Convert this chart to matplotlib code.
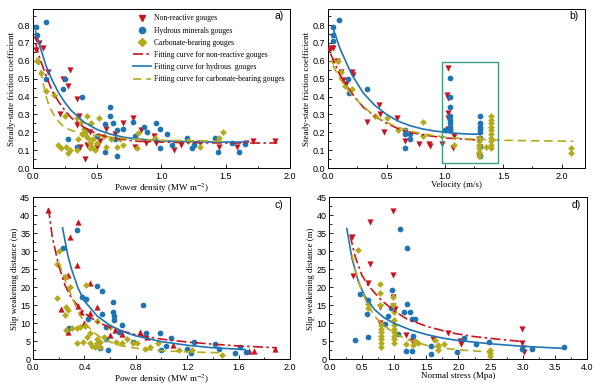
import matplotlib
matplotlib.use("Agg")
import matplotlib.pyplot as plt
from matplotlib.ticker import MultipleLocator

# ---- colours / styles
RED = '#c8141e'
BLUE = '#1f74b4'
OLIVE = '#b3ab1c'
BOX = '#3c9c80'

# ---- panel a) friction vs power density
a_red_x = [0.02, 0.02, 0.05, 0.08, 0.12, 0.21, 0.236, 0.275, 0.29, 0.345, 0.34, 0.355, 0.366,
           0.405, 0.42, 0.44, 0.50, 0.52, 0.57, 0.64, 0.70, 0.78, 0.79, 0.84, 0.88, 0.94, 0.96,
           1.10, 1.15, 1.30, 1.45, 1.59, 1.66, 1.71, 1.88]
a_red_y = [0.66, 0.72, 0.70, 0.67, 0.54, 0.30, 0.50, 0.46, 0.55, 0.385, 0.24, 0.29, 0.12,
           0.05, 0.13, 0.20, 0.12, 0.15, 0.22, 0.19, 0.25, 0.28, 0.12, 0.21, 0.14, 0.18, 0.14,
           0.10, 0.13, 0.14, 0.12, 0.12, 0.14, 0.15, 0.15]
a_blue_x = [0.023, 0.03, 0.10, 0.10, 0.23, 0.25, 0.275, 0.34, 0.38, 0.41, 0.50, 0.56, 0.56,
            0.60, 0.60, 0.625, 0.64, 0.65, 0.65, 0.70, 0.78, 0.79, 0.86, 0.885, 0.96, 0.99,
            0.99, 1.04, 1.08, 1.20, 1.235, 1.25, 1.42, 1.44, 1.55, 1.60, 1.65]
a_blue_y = [0.79, 0.745, 0.82, 0.50, 0.44, 0.50, 0.16, 0.115, 0.40, 0.21, 0.18, 0.245, 0.09,
            0.34, 0.29, 0.25, 0.16, 0.21, 0.07, 0.22, 0.26, 0.18, 0.23, 0.20, 0.25, 0.22,
            0.11, 0.19, 0.13, 0.17, 0.11, 0.13, 0.17, 0.09, 0.14, 0.09, 0.135]
a_olive_x = [0.03, 0.04, 0.065, 0.105, 0.16, 0.195, 0.22, 0.25, 0.26, 0.275, 0.29, 0.34, 0.34,
             0.35, 0.37, 0.38, 0.40, 0.405, 0.41, 0.42, 0.43, 0.44, 0.44, 0.45, 0.46, 0.47,
             0.48, 0.50, 0.51, 0.55, 0.57, 0.61, 0.65, 0.68, 0.70, 0.81, 0.82, 0.95, 1.21,
             1.30, 1.45, 1.48]
a_olive_y = [0.60, 0.60, 0.53, 0.43, 0.41, 0.13, 0.11, 0.29, 0.12, 0.085, 0.10, 0.10, 0.28,
             0.16, 0.26, 0.19, 0.22, 0.20, 0.18, 0.29, 0.17, 0.14, 0.11, 0.25, 0.12, 0.16,
             0.10, 0.14, 0.28, 0.18, 0.12, 0.16, 0.12, 0.16, 0.13, 0.11, 0.195, 0.17, 0.15,
             0.12, 0.17, 0.20]
a_fit_red_x = [0.02, 0.05, 0.10, 0.15, 0.20, 0.25, 0.30, 0.40, 0.50, 0.60, 0.70, 0.80, 1.0, 1.2, 1.5, 1.9]
a_fit_red_y = [0.70, 0.62, 0.52, 0.43, 0.37, 0.32, 0.28, 0.225, 0.19, 0.17, 0.16, 0.15, 0.145, 0.142, 0.14, 0.14]
a_fit_blue_x = [0.02, 0.05, 0.10, 0.15, 0.20, 0.25, 0.30, 0.40, 0.50, 0.60, 0.70, 0.80, 1.0, 1.2, 1.4, 1.67]
a_fit_blue_y = [0.765, 0.69, 0.575, 0.49, 0.42, 0.365, 0.32, 0.255, 0.215, 0.19, 0.173, 0.163, 0.152, 0.148, 0.146, 0.145]
a_fit_olive_x = [0.03, 0.06, 0.08, 0.106, 0.13, 0.16, 0.20, 0.24, 0.30, 0.38, 0.50, 0.70, 1.0, 1.48]
a_fit_olive_y = [0.62, 0.54, 0.47, 0.39, 0.34, 0.30, 0.26, 0.23, 0.21, 0.195, 0.18, 0.165, 0.155, 0.15]

# ---- panel b) friction vs velocity
b_red_x = [0.01, 0.023, 0.04, 0.077, 0.11, 0.13, 0.155, 0.20, 0.21, 0.33, 0.435, 0.44, 0.48,
           0.59, 0.655, 0.78, 0.86, 0.87, 0.976, 1.025, 1.02, 1.025, 1.025, 1.025, 1.025,
           1.08, 1.07, 1.295, 1.295, 1.30]
b_red_y = [0.66, 0.67, 0.67, 0.60, 0.535, 0.495, 0.47, 0.54, 0.52, 0.26, 0.355, 0.30, 0.20,
           0.28, 0.15, 0.135, 0.135, 0.125, 0.135, 0.56, 0.41, 0.39, 0.31, 0.28, 0.22,
           0.18, 0.11, 0.065, 0.16, 0.12]
b_blue_x = [0.043, 0.043, 0.043, 0.09, 0.17, 0.175, 0.335, 0.655, 0.655, 0.655, 0.705, 0.705,
            1.0, 1.04, 1.04, 1.04, 1.04, 1.04, 1.04, 1.04, 1.04, 1.04,
            1.30, 1.30, 1.30, 1.30, 1.30, 1.30, 1.30, 1.30]
b_blue_y = [0.79, 0.745, 0.71, 0.83, 0.50, 0.42, 0.44, 0.21, 0.19, 0.11, 0.19, 0.16,
            0.21, 0.505, 0.40, 0.34, 0.29, 0.27, 0.25, 0.23, 0.22, 0.21,
            0.29, 0.25, 0.23, 0.22, 0.20, 0.17, 0.12, 0.07]
b_olive_x = [0.043, 0.08, 0.11, 0.14, 0.20, 0.40, 0.50, 0.60, 0.81, 0.81, 1.075,
             1.295, 1.295, 1.295, 1.295, 1.295, 1.295, 1.35,
             1.395, 1.395, 1.395, 1.395, 1.395, 1.395, 1.395, 1.395, 1.395, 1.395,
             2.08, 2.08]
b_olive_y = [0.60, 0.60, 0.535, 0.46, 0.44, 0.29, 0.28, 0.21, 0.26, 0.18, 0.13,
             0.07, 0.09, 0.11, 0.13, 0.15, 0.17, 0.12,
             0.11, 0.13, 0.15, 0.17, 0.19, 0.21, 0.23, 0.25, 0.27, 0.29,
             0.11, 0.085]
b_fit_red_x = [0.02, 0.10, 0.20, 0.30, 0.40, 0.50, 0.60, 0.70, 0.80, 1.0, 1.2, 1.3]
b_fit_red_y = [0.64, 0.52, 0.42, 0.34, 0.29, 0.25, 0.22, 0.20, 0.187, 0.168, 0.16, 0.157]
b_fit_blue_x = [0.04, 0.10, 0.20, 0.30, 0.40, 0.50, 0.60, 0.70, 0.80, 0.90, 1.0, 1.1, 1.2, 1.3]
b_fit_blue_y = [0.785, 0.67, 0.525, 0.42, 0.35, 0.30, 0.262, 0.237, 0.22, 0.208, 0.20, 0.194, 0.19, 0.189]
b_fit_olive_x = [0.04, 0.10, 0.20, 0.30, 0.40, 0.50, 0.60, 0.70, 0.80, 1.0, 1.2, 1.5, 1.8, 2.1]
b_fit_olive_y = [0.575, 0.50, 0.41, 0.345, 0.29, 0.255, 0.228, 0.207, 0.192, 0.173, 0.163, 0.155, 0.152, 0.15]
b_box = [0.976, 1.457, 0.028, 0.594]  # velocity / friction extent of the highlighted group

# ---- panel c) slip weakening distance vs power density
c_red_x = [0.12, 0.35, 0.29, 0.345, 0.25, 0.27, 0.22, 0.44, 0.35, 0.37, 0.495, 0.44, 0.40,
           0.275, 0.60, 0.64, 0.69, 0.83, 0.885, 1.09, 1.68, 1.72, 1.88]
c_red_y = [41.5, 38, 34, 26.2, 23, 23.5, 13.9, 21.1, 14.8, 13.2, 14.4, 12.8, 10.2,
           7.7, 6.8, 8.1, 7.0, 7.7, 6.3, 3.9, 2.3, 2.3, 2.8]
c_blue_x = [0.235, 0.34, 0.28, 0.38, 0.41, 0.43, 0.50, 0.535, 0.535, 0.57, 0.585, 0.62, 0.62,
            0.63, 0.63, 0.67, 0.69, 0.775, 0.855, 0.88, 0.99, 1.0, 1.035, 1.075, 1.20, 1.23,
            1.255, 1.42, 1.445, 1.57, 1.61, 1.66, 0.52, 0.57]
c_blue_y = [30.8, 36, 8.6, 17.4, 16.7, 11.2, 20.4, 19.1, 12.5, 8.9, 2.6, 16, 13.2,
            11.9, 10.9, 7.7, 9.5, 4.9, 15.1, 7.2, 7.4, 2.6, 3.7, 6.0, 2.8, 1.7,
            4.8, 4.3, 2.8, 1.7, 3.3, 2.0, 3.2, 5.6]
c_olive_x = [0.205, 0.185, 0.185, 0.25, 0.29, 0.26, 0.275, 0.25, 0.30, 0.255, 0.34, 0.365,
             0.405, 0.34, 0.39, 0.42, 0.44, 0.44, 0.48, 0.50, 0.52, 0.52, 0.55, 0.60, 0.645,
             0.69, 0.73, 0.78, 0.81, 0.87, 0.91, 0.97, 1.14, 1.235, 1.47, 0.495, 0.41, 0.46, 0.50]
c_olive_y = [30.2, 26.5, 17.1, 22.8, 20.2, 14.6, 13.7, 12.3, 8.6, 8.1, 8.6, 8.9,
             9.3, 4.4, 4.9, 6.3, 7.2, 4.4, 3.5, 4.4, 3.5, 4.9, 6.3, 9.1, 4.9,
             4.4, 5.6, 4.4, 4.6, 2.8, 3.3, 4.4, 2.6, 2.6, 1.2, 10.5, 20.6, 3.8, 5.6]
c_fit_red_x = [0.12, 0.15, 0.20, 0.25, 0.30, 0.40, 0.50, 0.60, 0.80, 1.0, 1.2, 1.4, 1.6, 1.9]
c_fit_red_y = [42, 34, 26, 20.5, 17, 12.8, 10.4, 8.8, 6.8, 5.6, 4.8, 4.2, 3.7, 3.2]
c_fit_blue_x = [0.23, 0.27, 0.30, 0.35, 0.40, 0.50, 0.60, 0.70, 0.80, 1.0, 1.2, 1.4, 1.65]
c_fit_blue_y = [36.5, 29, 25, 19.8, 16.2, 12, 9.4, 7.7, 6.5, 4.9, 3.9, 3.2, 2.7]
c_fit_olive_x = [0.20, 0.25, 0.29, 0.33, 0.37, 0.42, 0.47, 0.55, 0.68, 0.85, 1.04, 1.25, 1.47]
c_fit_olive_y = [27, 22, 18.5, 15, 12, 9.5, 7.5, 5.5, 3.8, 2.8, 2.3, 2.0, 1.8]

# ---- panel d) slip weakening distance vs normal stress
d_red_x = [0.35, 0.37, 0.63, 0.63, 0.605, 0.785, 0.785, 0.98, 0.98, 0.99, 0.99, 1.02, 1.19,
           1.28, 1.61, 1.84, 2.03, 2.04, 2.98, 2.98, 3.02, 3.0]
d_red_y = [34, 23.2, 38.2, 26.5, 21.1, 14.5, 10.1, 41.2, 23.5, 17.4, 14.8, 14, 6.8,
           5, 5.6, 7.3, 5, 4.3, 8.5, 4.4, 2, 3]
d_blue_x = [0.40, 0.476, 0.595, 0.58, 0.605, 0.86, 0.915, 0.97, 0.95, 1.10, 1.07, 1.15, 1.20,
            1.21, 1.25, 1.28, 1.30, 1.33, 1.19, 1.28, 1.57, 1.57, 1.98, 2.08, 2.27, 2.48,
            2.98, 3.14, 3.63]
d_blue_y = [5.3, 18, 16.5, 12.6, 6.3, 9.8, 11.9, 19.2, 14.3, 36.2, 7.1, 13.2, 30.8,
            15.4, 13.2, 11.3, 6.6, 11.3, 2.4, 2.2, 3.6, 1.5, 1.9, 6.0, 4.3, 4.8,
            2.9, 2.9, 3.3]
d_olive_x = [0.445, 0.60, 0.60, 0.785, 0.785, 0.785,
             0.80, 0.80, 0.80, 0.80, 0.80, 0.80, 0.80,
             0.98, 0.98, 1.0, 1.0, 1.0, 1.0, 1.0, 1.0, 1.0, 1.0,
             1.19, 1.30, 1.33, 1.38, 1.64, 1.69, 1.69, 1.77, 2.49, 2.49, 2.49]
d_olive_y = [30.4, 15.3, 14.3, 20.9, 18.4, 15.2,
             3.5, 4.5, 5.5, 6.5, 7.5, 8.5, 9.5,
             17.4, 15.2, 4.5, 5.5, 6.5, 7.5, 8.5, 9.5, 11, 13,
             4.3, 4.0, 5.0, 4.5, 5.4, 4.0, 2.6, 4.3, 2.6, 1.7, 0.8]
d_fit_red_x = [0.32, 0.40, 0.50, 0.60, 0.80, 1.0, 1.2, 1.5, 1.87, 2.2, 2.6, 3.0]
d_fit_red_y = [34.5, 28.5, 23.5, 20.5, 16.5, 13.5, 11.2, 9.2, 7.4, 6.4, 5.6, 4.9]
d_fit_blue_x = [0.27, 0.35, 0.45, 0.55, 0.70, 0.85, 1.0, 1.25, 1.5, 1.75, 2.0, 2.5, 3.0, 3.65]
d_fit_blue_y = [36.3, 28, 21.5, 17.5, 13.8, 11.5, 10, 8.2, 6.9, 5.9, 5.2, 4.3, 3.6, 3.0]
d_fit_olive_x = [0.35, 0.40, 0.50, 0.60, 0.70, 0.80, 1.0, 1.2, 1.5, 1.8, 2.1, 2.5]
d_fit_olive_y = [29, 25, 19, 15, 12, 10, 7.3, 5.5, 3.9, 3.0, 2.5, 2.0]

labels = ['Non-reactive gouges', 'Hydrous minerals gouges', 'Carbonate-bearing gouges',
          'Fitting curve for non-reactive gouges', 'Fitting curve for hydrous  gouges',
          'Fitting curve for carbonate-bearing gouges']

SERIF = 'Liberation Serif'
SANS = 'Liberation Sans'
plt.rcParams['font.family'] = SANS
plt.rcParams['mathtext.fontset'] = 'stix'

RED_LS = (0, (6, 2, 1.5, 2))
OLIVE_LS = (0, (5, 3))


def style_axis(ax, xlim, ylim, xmaj, xmin, ymaj, ymin, xfmt, yfmt, xlabel, ylabel, tag):
    ax.set_xlim(*xlim)
    ax.set_ylim(*ylim)
    ax.xaxis.set_major_locator(MultipleLocator(xmaj))
    ax.xaxis.set_minor_locator(MultipleLocator(xmin))
    ax.yaxis.set_major_locator(MultipleLocator(ymaj))
    ax.yaxis.set_minor_locator(MultipleLocator(ymin))
    ax.xaxis.set_major_formatter(xfmt)
    ax.yaxis.set_major_formatter(yfmt)
    ax.tick_params(which='both', direction='in', labelsize=6.5, width=0.6)
    ax.tick_params(which='major', length=3)
    ax.tick_params(which='minor', length=1.8)
    ax.tick_params(axis='x', pad=3)
    ax.tick_params(axis='y', pad=2)
    for sp in ax.spines.values():
        sp.set_linewidth(0.7)
    ax.set_xlabel(xlabel, fontfamily=SERIF, fontsize=6.5, labelpad=0)
    ax.set_ylabel(ylabel, fontfamily=SERIF, fontsize=6.5, labelpad=1)
    ax.text(0.975, 0.955, tag, transform=ax.transAxes, ha='right', va='center', fontsize=7.5)


def draw(ax, rx, ry, bx, by, ox, oy, red_marker, fits):
    ax.scatter(rx, ry, marker=red_marker, s=20, color=RED, linewidths=0, zorder=3)
    ax.scatter(bx, by, marker='o', s=17, color=BLUE, linewidths=0, zorder=3)
    ax.scatter(ox, oy, marker='D', s=12, color=OLIVE, linewidths=0, zorder=3)
    (frx, fry), (fbx, fby), (fox, foy) = fits
    ax.plot(frx, fry, color=RED, ls=RED_LS, lw=1.2, zorder=4)
    ax.plot(fbx, fby, color=BLUE, ls='-', lw=1.2, zorder=4)
    ax.plot(fox, foy, color=OLIVE, ls=OLIVE_LS, lw=1.2, zorder=4)


fig = plt.figure(figsize=(6.0, 3.85), dpi=100)
ax_a = fig.add_axes([0.055, 0.5636, 0.4283, 0.413])
ax_b = fig.add_axes([0.547, 0.5636, 0.428, 0.413])
ax_c = fig.add_axes([0.055, 0.0668, 0.4283, 0.4208])
ax_d = fig.add_axes([0.549, 0.0668, 0.43, 0.4208])

f1 = '{x:.1f}'
f0 = '{x:.0f}'

draw(ax_a, a_red_x, a_red_y, a_blue_x, a_blue_y, a_olive_x, a_olive_y, 'v',
     [(a_fit_red_x, a_fit_red_y), (a_fit_blue_x, a_fit_blue_y), (a_fit_olive_x, a_fit_olive_y)])
style_axis(ax_a, (0, 2.0), (0, 0.89), 0.5, 0.25, 0.1, 0.05, f1, f1,
           'Power density (MW m$^{-2}$)', 'Steady-state friction coefficient', 'a)')

draw(ax_b, b_red_x, b_red_y, b_blue_x, b_blue_y, b_olive_x, b_olive_y, 'v',
     [(b_fit_red_x, b_fit_red_y), (b_fit_blue_x, b_fit_blue_y), (b_fit_olive_x, b_fit_olive_y)])
style_axis(ax_b, (0, 2.2), (0, 0.89), 0.5, 0.25, 0.1, 0.05, f1, f1,
           'Velocity (m/s)', 'Steady-state friction coefficient', 'b)')
x0, x1, y0, y1 = b_box
ax_b.add_patch(plt.Rectangle((x0, y0), x1 - x0, y1 - y0, fill=False, ec=BOX, lw=1.0, zorder=5))

draw(ax_c, c_red_x, c_red_y, c_blue_x, c_blue_y, c_olive_x, c_olive_y, '^',
     [(c_fit_red_x, c_fit_red_y), (c_fit_blue_x, c_fit_blue_y), (c_fit_olive_x, c_fit_olive_y)])
style_axis(ax_c, (0, 2.0), (0, 45), 0.4, 0.2, 5, 2.5, f1, f0,
           'Power density (MW m$^{-2}$)', 'Slip weakening distance (m)', 'c)')

draw(ax_d, d_red_x, d_red_y, d_blue_x, d_blue_y, d_olive_x, d_olive_y, 'v',
     [(d_fit_red_x, d_fit_red_y), (d_fit_blue_x, d_fit_blue_y), (d_fit_olive_x, d_fit_olive_y)])
style_axis(ax_d, (0, 4.0), (0, 45), 0.5, 0.25, 5, 2.5, f1, f0,
           'Normal stress (Mpa)', 'Slip weakening distance (m)', 'd)')

# legend in panel a
h = [plt.Line2D([], [], marker='v', ls='none', color=RED, ms=5),
     plt.Line2D([], [], marker='o', ls='none', color=BLUE, ms=4.5),
     plt.Line2D([], [], marker='D', ls='none', color=OLIVE, ms=3.8),
     plt.Line2D([], [], color=RED, ls=RED_LS, lw=1.2),
     plt.Line2D([], [], color=BLUE, ls='-', lw=1.2),
     plt.Line2D([], [], color=OLIVE, ls=OLIVE_LS, lw=1.2)]
ax_a.legend(h, labels, loc='upper left', bbox_to_anchor=(0.37, 1.0), frameon=False,
            prop={'family': SERIF, 'size': 5.5}, handlelength=2.3, handletextpad=0.4,
            labelspacing=0.55, borderaxespad=0.3)

fig.savefig('out.png', dpi=100)
